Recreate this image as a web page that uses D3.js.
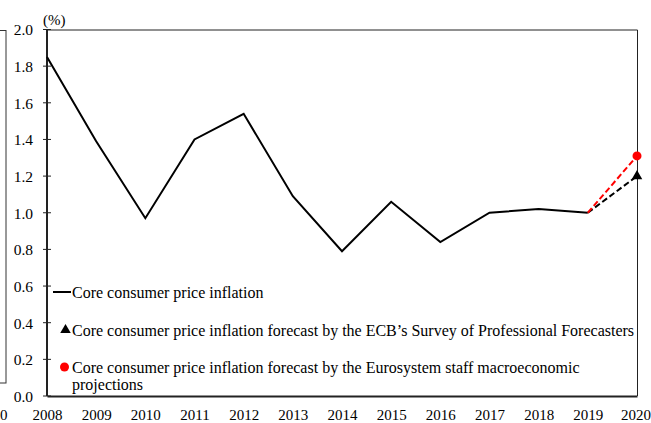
<!DOCTYPE html>
<html>
<head>
<meta charset="utf-8">
<script src="https://cdn.jsdelivr.net/npm/d3@7"></script>
<style>
body { margin:0; background:#fff; }
svg text { font-family:"Liberation Serif","Times New Roman",serif; fill:#000; }
</style>
</head>
<body>
<div class="chart-container"></div>
<script>
var years = ['2008','2009','2010','2011','2012','2013','2014','2015','2016','2017','2018','2019','2020'];
var coreInflation = [1.85, 1.39, 0.97, 1.40, 1.54, 1.09, 0.79, 1.06, 0.84, 1.00, 1.02, 1.00];
var forecastYears = ['2019','2020'];
var spfForecast = [1.00, 1.20];
var staffProjection = [1.00, 1.31];
var yTicks = [0, 0.2, 0.4, 0.6, 0.8, 1.0, 1.2, 1.4, 1.6, 1.8, 2.0];
var legendLabels = [
	['Core consumer price inflation'],
	['Core consumer price inflation forecast by the ECB\u2019s Survey of Professional Forecasters'],
	['Core consumer price inflation forecast by the Eurosystem staff macroeconomic', 'projections']
];

var margin = {top:29.5,right:14,bottom:27,left:47},
	width = 651 - margin.left - margin.right,
	height = 423 - margin.top - margin.bottom;

var svg = d3.select('.chart-container').append('svg')
	.attr('width', 651)
	.attr('height', 423);

// edge of the neighbouring chart, cut off on the left
svg.append('rect')
	.attr('x', -20).attr('y', 30.5)
	.attr('width', 26).attr('height', 352.5)
	.attr('fill', 'none').attr('stroke', '#333').attr('stroke-width', 1);
svg.append('text')
	.attr('x', 0).attr('y', 420)
	.style('font-size', '15px')
	.text('0');

var g = svg.append('g')
	.attr('transform', 'translate(' + margin.left + ',' + margin.top + ')');

var x = d3.scalePoint()
	.domain(years)
	.range([0, width]);

var y = d3.scaleLinear()
	.domain([0, 2])
	.range([height, 0]);

// frame
g.append('path')
	.attr('d', 'M0,0.5H' + (width + 0.5) + 'V' + height)
	.attr('fill', 'none')
	.attr('stroke', '#222')
	.attr('stroke-width', 1);

// y axis
var yAxis = g.append('g')
	.call(d3.axisLeft(y)
		.tickValues(yTicks)
		.tickSize(0)
		.tickPadding(14)
		.tickFormat(d3.format('.1f')));
yAxis.select('.domain').remove();
yAxis.selectAll('text').style('font-size', '15.5px').attr('dy', '0.35em');

g.append('g')
	.selectAll('line')
	.data(yTicks)
	.enter().append('line')
		.attr('x1', -4).attr('x2', 4)
		.attr('y1', function(d){ return y(d); })
		.attr('y2', function(d){ return y(d); })
		.attr('stroke', '#222')
		.attr('stroke-width', 1);

g.append('line')
	.attr('x1', 0).attr('x2', 0)
	.attr('y1', 0).attr('y2', height)
	.attr('stroke', '#222')
	.attr('stroke-width', 2);

// x axis
var xAxis = g.append('g')
	.attr('transform', 'translate(0,' + height + ')')
	.call(d3.axisBottom(x).tickSize(0).tickPadding(13));
xAxis.select('.domain')
	.attr('stroke', '#222')
	.attr('stroke-width', 2);
xAxis.selectAll('text').style('font-size', '15px');
// keep the last year inside the window
xAxis.selectAll('.tick').filter(function(d){ return d == '2020'; })
	.select('text').attr('dx', -1.5);

g.append('text')
	.attr('x', -4).attr('y', -5)
	.style('font-size', '15px')
	.text('(%)');

var line = d3.line()
	.x(function(d){ return x(d[0]); })
	.y(function(d){ return y(d[1]); });

g.append('path')
	.datum(d3.zip(years.slice(0, coreInflation.length), coreInflation))
	.attr('d', line)
	.attr('fill', 'none')
	.attr('stroke', '#000')
	.attr('stroke-width', 2)
	.attr('stroke-linejoin', 'miter');

g.append('path')
	.datum(d3.zip(forecastYears, spfForecast))
	.attr('d', line)
	.attr('fill', 'none')
	.attr('stroke', '#000')
	.attr('stroke-width', 2)
	.attr('stroke-dasharray', '6,3');

g.append('path')
	.datum(d3.zip(forecastYears, staffProjection))
	.attr('d', line)
	.attr('fill', 'none')
	.attr('stroke', '#ff0000')
	.attr('stroke-width', 2)
	.attr('stroke-dasharray', '6,3');

var triangle = d3.symbol().type(d3.symbolTriangle).size(48);

g.append('path')
	.attr('d', triangle)
	.attr('transform', 'translate(' + x('2020') + ',' + y(spfForecast[1]) + ')')
	.attr('fill', '#000');

g.append('circle')
	.attr('cx', x('2020'))
	.attr('cy', y(staffProjection[1]))
	.attr('r', 4.5)
	.attr('fill', '#ff0000');

// legend
var legend = g.append('g');

var legendY = [262.5, 300.5, 337.5];

legend.append('line')
	.attr('x1', 6).attr('x2', 24)
	.attr('y1', legendY[0]).attr('y2', legendY[0])
	.attr('stroke', '#000').attr('stroke-width', 2);

legend.append('path')
	.attr('d', triangle)
	.attr('transform', 'translate(18.5,' + legendY[1] + ')')
	.attr('fill', '#000');

legend.append('circle')
	.attr('cx', 17.5).attr('cy', legendY[2])
	.attr('r', 4.5)
	.attr('fill', '#ff0000');

legendLabels.forEach(function(lines, i){
	var t = legend.append('text')
		.attr('x', 25).attr('y', legendY[i])
		.style('font-size', '16px');
	lines.forEach(function(l, j){
		t.append('tspan')
			.attr('x', 25)
			.attr('dy', j == 0 ? '0.35em' : '1.1em')
			.text(l);
	});
});
</script>
</body>
</html>
